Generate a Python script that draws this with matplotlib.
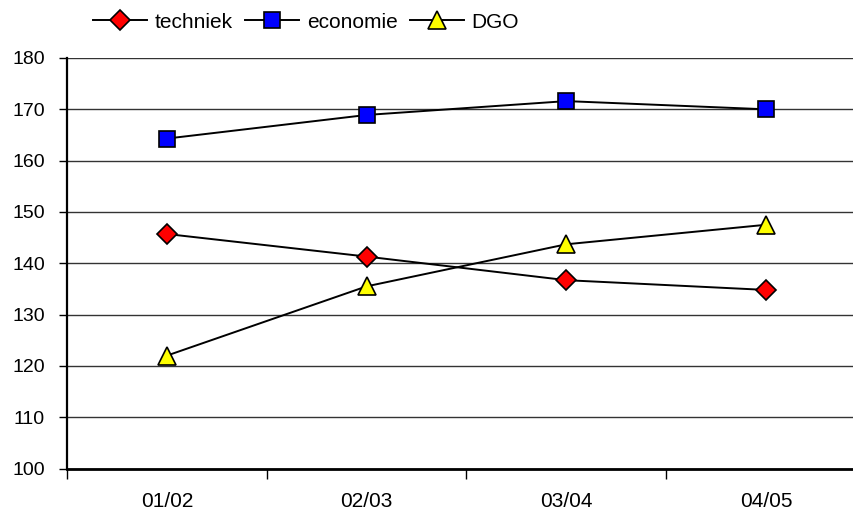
import matplotlib
matplotlib.use("Agg")
import matplotlib.pyplot as plt
import numpy as np

plt.rcParams['font.family'] = ['Liberation Sans', 'DejaVu Sans']

categories = ["01/02", "02/03", "03/04", "04/05"]
techniek = [145.7, 141.3, 136.7, 134.8]
economie = [164.3, 168.9, 171.6, 170.0]
dgo = [122.0, 135.5, 143.7, 147.5]

fig = plt.figure(figsize=(8.54, 5.13), dpi=100)
ax = fig.add_axes([67/854, 1 - 468.5/513, (866 - 67)/854, (468.5 - 58)/513])

x = np.arange(len(categories))
ax.plot(x, techniek, color='black', lw=1.4, marker='D', markersize=10,
        markerfacecolor='#ff0000', markeredgecolor='black', markeredgewidth=1.2,
        label='techniek', zorder=3)
ax.plot(x, economie, color='black', lw=1.4, marker='s', markersize=11,
        markerfacecolor='#0000ff', markeredgecolor='black', markeredgewidth=1.2,
        label='economie', zorder=3)
ax.plot(x, dgo, color='black', lw=1.4, marker='^', markersize=13,
        markerfacecolor='#ffff00', markeredgecolor='black', markeredgewidth=1.2,
        label='DGO', zorder=3)

ax.set_xlim(-0.5, 3.5)
ax.set_ylim(100, 180)
ax.set_yticks(np.arange(100, 181, 10))
ax.yaxis.grid(True, color='#333333', lw=1.0)
ax.set_axisbelow(True)

ax.set_xticks(np.arange(-0.5, 3.5, 1.0))
ax.set_xticklabels([])
ax.set_xticks(x, minor=True)
ax.set_xticklabels(categories, minor=True)
ax.tick_params(axis='x', which='minor', length=0, pad=17, labelsize=15)
ax.tick_params(axis='x', which='major', length=7, width=1, color='black', direction='out')
ax.tick_params(axis='y', length=6, width=1, direction='out', labelsize=14, pad=10)

for s in ['top', 'right']:
    ax.spines[s].set_visible(False)
ax.spines['left'].set_linewidth(1.6)
ax.spines['bottom'].set_linewidth(2.0)

fig.legend(loc='center', bbox_to_anchor=(306/854, 1 - 22/513), ncol=3, frameon=False,
           fontsize=15, handlelength=2.6, handletextpad=0.35, columnspacing=0.6,
           borderaxespad=0)

fig.savefig("out.png", dpi=100)
